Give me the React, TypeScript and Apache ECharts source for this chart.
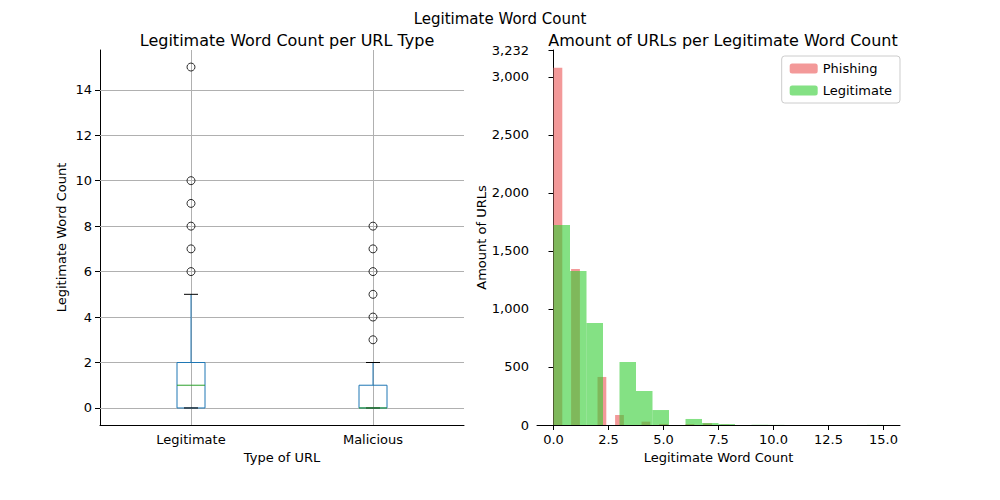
import { useEffect, useRef } from "react";
import * as echarts from "echarts";

const urlTypes = ["Legitimate", "Malicious"];
// [whiskerLow, q1, median, q3, whiskerHigh]
const boxStats = [
  [0, 0, 1, 2, 5],
  [0, 0, 0, 1, 2],
];
const legitOutliers = [6, 7, 8, 9, 10, 15];
const maliciousOutliers = [3, 4, 5, 6, 7, 8];
const yTicksLeft = [0, 2, 4, 6, 8, 10, 12, 14];

// histogram bins: [start, end, count]
const phishingBins = [
  [0, 0.4, 3078], [0.8, 1.2, 1345], [2.0, 2.4, 414], [2.8, 3.2, 86],
  [4.0, 4.4, 29], [4.8, 5.2, 9], [6.0, 6.4, 8], [6.8, 7.2, 15], [7.6, 8.0, 3],
];
const legitimateBins = [
  [0, 0.75, 1724], [0.75, 1.5, 1328], [1.5, 2.25, 879], [3.0, 3.75, 543],
  [3.75, 4.5, 293], [4.5, 5.25, 129], [6.0, 6.75, 52], [6.75, 7.5, 17],
  [7.5, 8.25, 8], [9.0, 9.75, 2], [9.75, 10.5, 1], [14.25, 15, 1],
];
const xTicksRight = [0, 2.5, 5, 7.5, 10, 12.5, 15];

const font = "DejaVu Sans";

export default function App() {
  const ref = useRef<HTMLDivElement | null>(null);

  useEffect(() => {
    if (!ref.current) return;
    const chart = echarts.init(ref.current, undefined, { renderer: "svg" });
    const histItem = (color: string, opacity: number) => (params: any, api: any) => {
      const a = api.coord([api.value(0), api.value(2)]);
      const b = api.coord([api.value(1), 0]);
      return {
        type: "rect",
        shape: { x: a[0], y: a[1], width: b[0] - a[0], height: b[1] - a[1] },
        style: { fill: color, opacity },
      };
    };
    const axisText = { color: "#000", fontSize: 13, fontFamily: font };
    chart.setOption({
      animation: false,
      textStyle: { fontFamily: font },
      title: [
        { text: "Legitimate Word Count", left: "center", top: 6, textStyle: { fontSize: 15, fontWeight: "normal", color: "#000", fontFamily: font } },
        { text: "Legitimate Word Count per URL Type", left: 282, textAlign: "center", top: 27, textStyle: { fontSize: 16, fontWeight: "normal", color: "#000", fontFamily: font } },
        { text: "Amount of URLs per Legitimate Word Count", left: 718, textAlign: "center", top: 27, textStyle: { fontSize: 16, fontWeight: "normal", color: "#000", fontFamily: font } },
      ],
      legend: {
        right: 100, top: 56, orient: "vertical", itemWidth: 28, itemHeight: 10,
        itemGap: 9, padding: [6, 8], borderColor: "#ccc", borderWidth: 1, borderRadius: 3,
        textStyle: { fontSize: 13, color: "#000", fontFamily: font },
        data: [
          { name: "Phishing", itemStyle: { color: "#f08080", opacity: 0.8 } },
          { name: "Legitimate", itemStyle: { color: "#32cd32", opacity: 0.6 } },
        ],
      },
      grid: [
        { left: 100, top: 50, width: 364, height: 375 },
        { left: 537, top: 50, width: 363, height: 375 },
      ],
      xAxis: [
        {
          gridIndex: 0, type: "category", data: urlTypes,
          name: "Type of URL", nameLocation: "middle", nameGap: 26, nameTextStyle: axisText,
          axisLine: { show: true, onZero: false, lineStyle: { color: "#000" } },
          axisTick: { alignWithLabel: true, lineStyle: { color: "#000" } },
          axisLabel: axisText, splitLine: { show: false },
        },
        {
          gridIndex: 1, type: "value", min: -0.75, max: 15.75,
          name: "Legitimate Word Count", nameLocation: "middle", nameGap: 26, nameTextStyle: axisText,
          axisLine: { show: true, onZero: false, lineStyle: { color: "#000" } },
          axisTick: { show: true, customValues: xTicksRight, lineStyle: { color: "#000" } },
          axisLabel: { ...axisText, customValues: xTicksRight, formatter: (v: number) => v.toFixed(1) },
          splitLine: { show: false },
        },
      ],
      yAxis: [
        {
          gridIndex: 0, type: "value", min: -0.75, max: 15.75,
          name: "Legitimate Word Count", nameLocation: "middle", nameGap: 32, nameTextStyle: axisText,
          axisLine: { show: true, lineStyle: { color: "#000" } },
          axisTick: { show: true, customValues: yTicksLeft, lineStyle: { color: "#000" } },
          axisLabel: { ...axisText, customValues: yTicksLeft },
          splitLine: { show: false },
        },
        {
          gridIndex: 1, type: "value", min: 0, max: 3232, interval: 500,
          name: "Amount of URLs", nameLocation: "middle", nameGap: 44, nameTextStyle: axisText,
          axisLine: { show: true, lineStyle: { color: "#000" } },
          axisTick: { show: true, lineStyle: { color: "#000" } },
          axisLabel: axisText, splitLine: { show: false },
        },
      ],
      series: [
        {
          type: "custom", xAxisIndex: 0, yAxisIndex: 0, z: 3,
          data: boxStats.map((s, i) => [i, ...s]),
          renderItem: (params: any, api: any) => {
            const i = api.value(0);
            const p = (v: number) => api.coord([i, v]);
            const half = 14;
            const capHalf = 7;
            const [lo, q1, med, q3, hi] = [1, 2, 3, 4, 5].map((k) => p(api.value(k)));
            const x = lo[0];
            const blue = { stroke: "#1f77b4", lineWidth: 1 };
            return {
              type: "group",
              children: [
                { type: "rect", shape: { x: x - half, y: q3[1], width: half * 2, height: q1[1] - q3[1] }, style: { fill: "none", ...blue } },
                { type: "line", shape: { x1: x, y1: q3[1], x2: x, y2: hi[1] }, style: blue },
                { type: "line", shape: { x1: x, y1: q1[1], x2: x, y2: lo[1] }, style: blue },
                { type: "line", shape: { x1: x - capHalf, y1: hi[1], x2: x + capHalf, y2: hi[1] }, style: { stroke: "#000", lineWidth: 1 } },
                { type: "line", shape: { x1: x - capHalf, y1: lo[1], x2: x + capHalf, y2: lo[1] }, style: { stroke: "#000", lineWidth: 1 } },
                { type: "line", shape: { x1: x - half, y1: med[1], x2: x + half, y2: med[1] }, style: { stroke: "#2ca02c", lineWidth: 1 } },
              ],
            };
          },
        },
        {
          type: "scatter", xAxisIndex: 0, yAxisIndex: 0, z: 4,
          symbol: "circle", symbolSize: 8,
          itemStyle: { color: "none", borderColor: "#000", borderWidth: 1 },
          data: [
            ...legitOutliers.map((v) => ["Legitimate", v]),
            ...maliciousOutliers.map((v) => ["Malicious", v]),
          ],
          markLine: {
            silent: true, symbol: "none", label: { show: false }, z: 1,
            lineStyle: { color: "#b0b0b0", type: "solid", width: 1 },
            data: [
              ...urlTypes.map((c) => ({ xAxis: c })),
              ...yTicksLeft.map((v) => ({ yAxis: v })),
            ],
          },
        },
        {
          name: "Phishing", type: "custom", xAxisIndex: 1, yAxisIndex: 1,
          itemStyle: { color: "#f08080" },
          renderItem: histItem("#f08080", 0.8), data: phishingBins,
        },
        {
          name: "Legitimate", type: "custom", xAxisIndex: 1, yAxisIndex: 1,
          itemStyle: { color: "#32cd32" },
          renderItem: histItem("#32cd32", 0.6), data: legitimateBins,
        },
      ],
    });
    return () => chart.dispose();
  }, []);

  return <div ref={ref} style={{ width: 1000, height: 500, margin: -8 }} />;
}
